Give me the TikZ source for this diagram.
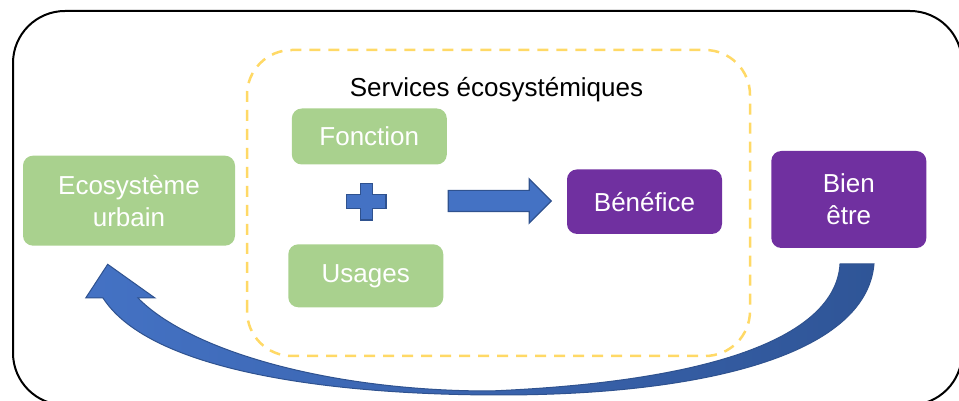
\documentclass[tikz,border=0pt]{standalone}
\usepackage{fontspec}
\setmainfont{Liberation Sans}
\usetikzlibrary{positioning,shapes.arrows}

\definecolor{leaf}{HTML}{A9D18E}
\definecolor{plum}{HTML}{7030A0}
\definecolor{sky}{HTML}{4472C4}
\definecolor{navy}{HTML}{2F528F}
\definecolor{deepblue}{HTML}{2F5597}
\definecolor{sun}{HTML}{FFD966}

\begin{document}
\begin{tikzpicture}[x=1pt,y=1pt]
		\tikzset{box/.style={rounded corners=10pt,text=white,align=center,inner sep=0pt,
				font=\fontsize{26}{32}\selectfont}}
		\tikzset{greenbox/.style={box,fill=leaf},purplebox/.style={box,fill=plum}}
		\tikzset{blockblue/.style={fill=sky,draw=navy,line width=1.2pt}}
		\useasboundingbox (0,0) rectangle (959,401);
		% frames
		\draw[line width=2pt,rounded corners=52pt] (13,-4) rectangle (962,390);
		\draw[sun,line width=2.5pt,dash pattern=on 11pt off 8pt,rounded corners=45pt] (247,45) rectangle (750,351);
		\node[anchor=base,font=\fontsize{26}{32}\selectfont] (title) at (496.5,304) {Services écosystémiques};
		% boxes
		\node[greenbox,minimum width=212pt,minimum height=90pt] (eco) at (129,200.3) {Ecosystème\\urbain};
		\node[greenbox,minimum width=155pt,minimum height=56pt] (fonction) at (369.3,264.5) {Fonction};
		\node[greenbox,minimum width=155pt,minimum height=63pt] (usages) at (365.8,125.2) {Usages};
		\node[purplebox,minimum width=155pt,minimum height=64.5pt] (benefice) at (644.5,199.3) {Bénéfice};
		\node[purplebox,minimum width=155pt,minimum height=97pt] (bien) at (848.8,201.5) {Bien\\être};
		% plus and arrow
		\coordinate (plus) at (366.3,199.3);
		\filldraw[blockblue] (plus) ++(-6,18.3) -- ++(12,0) -- ++(0,-11.3) -- ++(13.7,0) -- ++(0,-14)
			-- ++(-13.7,0) -- ++(0,-11.3) -- ++(-12,0) -- ++(0,11.3) -- ++(-13.7,0) -- ++(0,14) -- ++(13.7,0) -- cycle;
		\node[single arrow,blockblue,anchor=tail,minimum height=103pt,inner sep=10pt,
			single arrow head extend=11.5pt] (flow) at (447.7,200) {};
		% loop back
		\shadedraw[left color=sky,right color=deepblue,draw=navy,line width=1pt]
			(874,137) .. controls (866,45) and (700,6) .. (500,6)
			.. controls (330,6) and (150,30) .. (103,103)
			-- (85.7,103) -- (107.7,136.7) -- (155,103) -- (138,103)
			.. controls (190,50) and (330,10) .. (490,10)
			.. controls (730,20) and (836,70) .. (840,137) -- cycle;
\end{tikzpicture}
\end{document}
